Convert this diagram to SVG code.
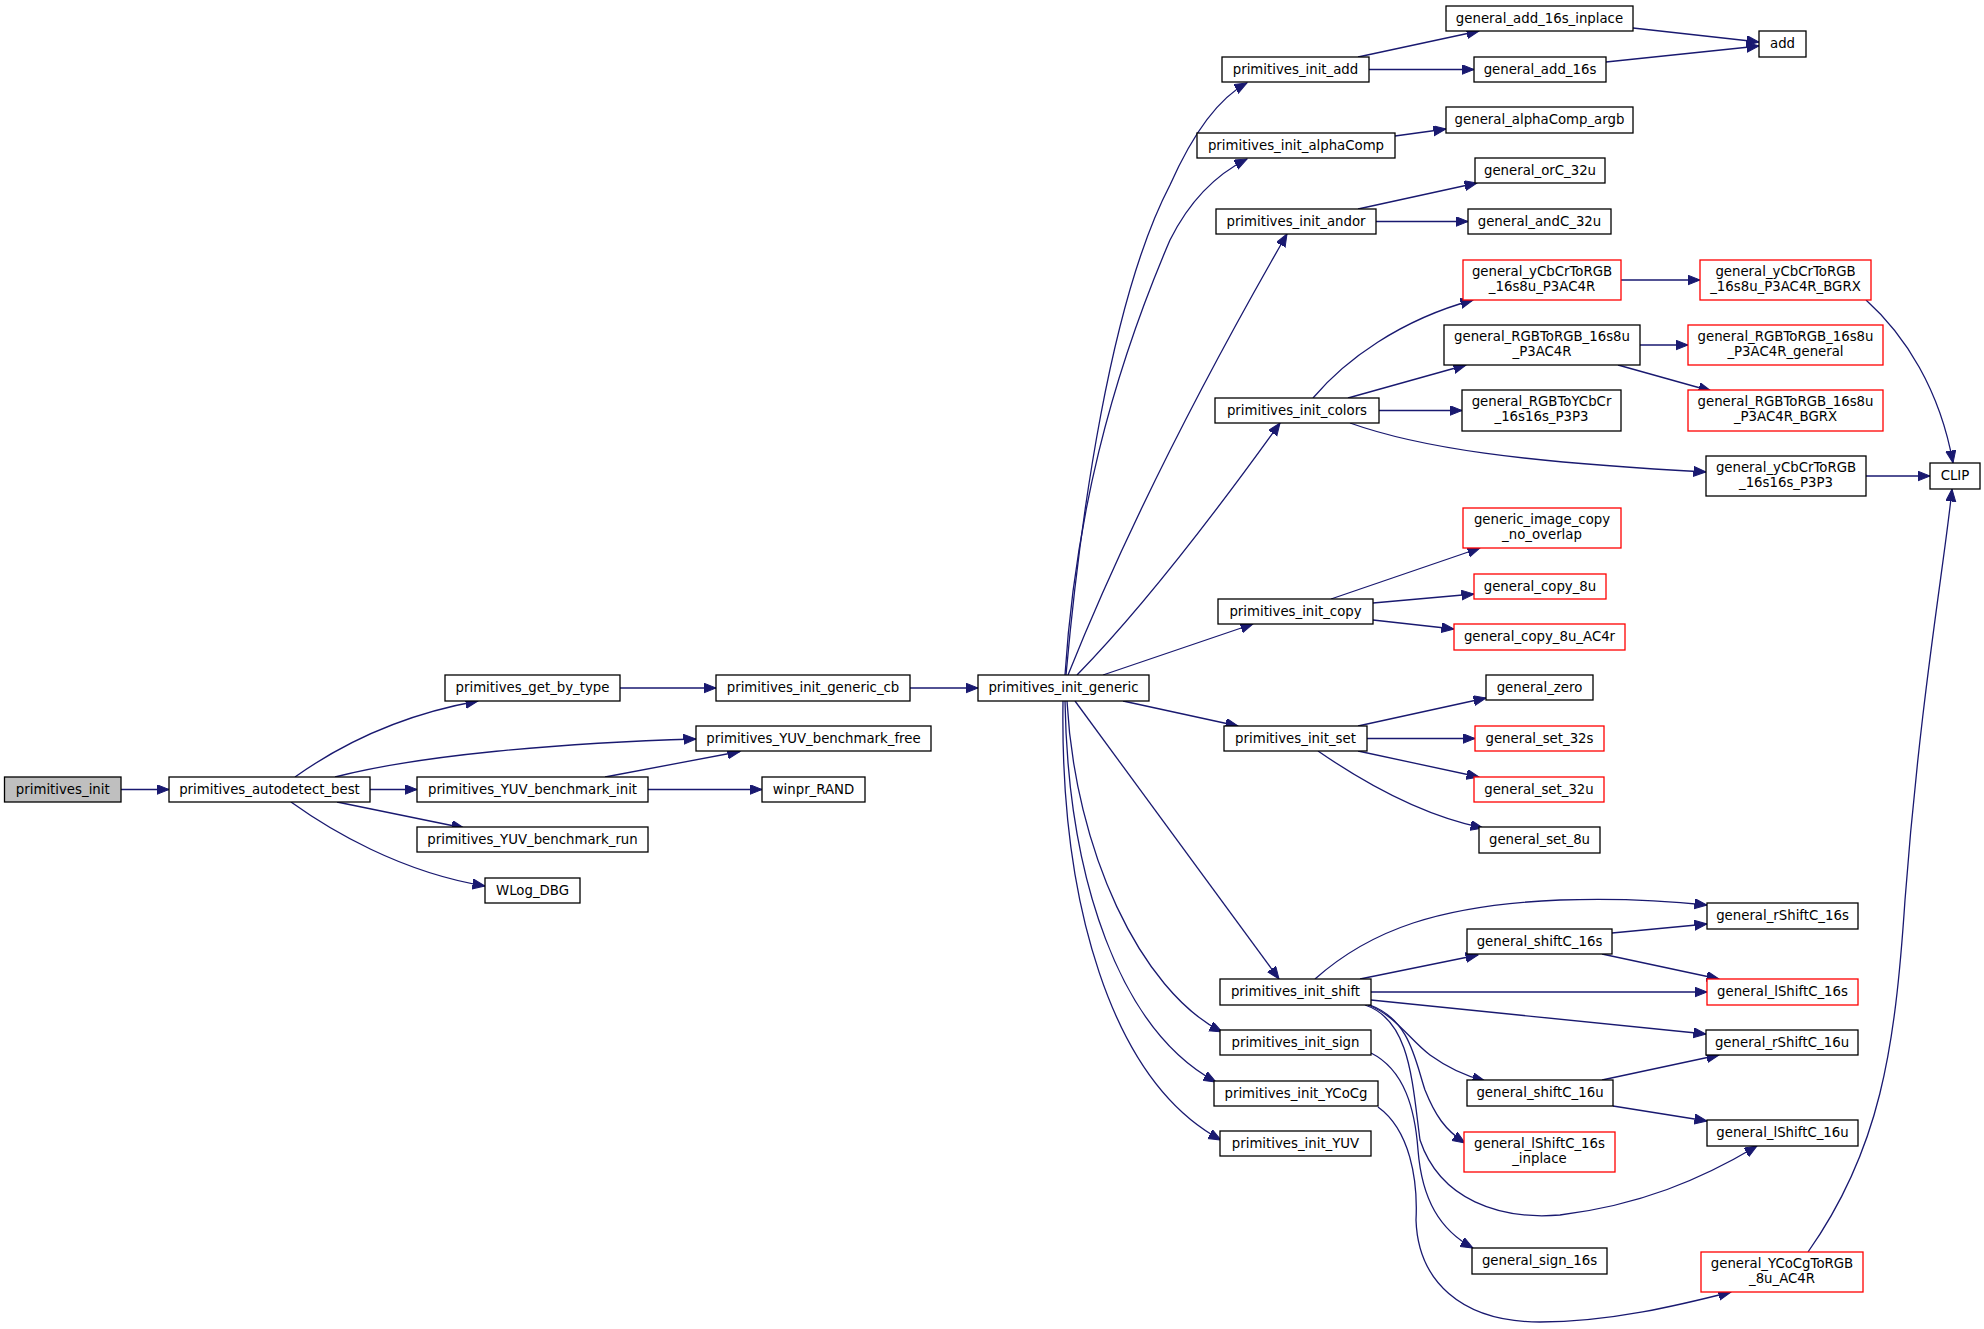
<svg xmlns="http://www.w3.org/2000/svg" width="1984" height="1329" viewBox="0 0 1984 1329">
<style>
.n rect{fill:#fff;stroke:#000;stroke-width:1.3}
.r rect{stroke:#ff0000}
.g rect{fill:#bfbfbf}
text{font-family:"DejaVu Sans","Liberation Sans",sans-serif;font-size:13.3px;fill:#000;text-anchor:middle}
#edges path{fill:none;stroke:#191970;stroke-width:1.3;marker-end:url(#ah)}
</style>
<defs>
<marker id="ah" markerUnits="userSpaceOnUse" markerWidth="14" markerHeight="11" refX="12.5" refY="5" orient="auto">
<path d="M0,0 L12.5,5 L0,10 z" fill="#191970" stroke="#191970" stroke-width="1"/>
</marker>
</defs>
<rect width="1984" height="1329" fill="#fff"/>
<g id="edges">
<path d="M121,789.5 L169,789.5"/>
<path d="M295,777 C340,745 400,715 478,701"/>
<path d="M335,777 C420,755 560,743 696,739"/>
<path d="M370,789.5 L417,789.5"/>
<path d="M337,802 L464,828"/>
<path d="M291,802 C330,830 400,872 485,886"/>
<path d="M605,777 L740,751.5"/>
<path d="M648,789.5 L762,789.5"/>
<path d="M620,688 L716,688"/>
<path d="M910,688 L978,688"/>
<path d="M1066,675 C1080,520 1110,300 1170,185 C1190,140 1215,100 1247,83"/>
<path d="M1065,675 C1075,520 1110,380 1170,240 C1190,200 1215,175 1247,159"/>
<path d="M1068,675 C1110,570 1180,420 1287,234"/>
<path d="M1077,675 Q1160,590 1280,423"/>
<path d="M1103,675 L1253,624"/>
<path d="M1123,701 L1238,726"/>
<path d="M1075,701 L1279,979"/>
<path d="M1067,701 C1075,850 1140,990 1222,1032"/>
<path d="M1065,701 C1068,880 1120,1030 1216,1082"/>
<path d="M1063,701 C1060,900 1110,1080 1221,1140"/>
<path d="M1358,57 L1479,31"/>
<path d="M1369,69.5 L1474,69.5"/>
<path d="M1633,28 L1759,42"/>
<path d="M1606,62 L1759,46"/>
<path d="M1395,136 L1446,129"/>
<path d="M1358,209 L1477,183"/>
<path d="M1376,221.5 L1468,221.5"/>
<path d="M1313,398 C1345,360 1400,320 1473,300"/>
<path d="M1348,398 L1466,365"/>
<path d="M1379,410.5 L1462,410.5"/>
<path d="M1350,423 C1420,448 1520,462 1706,472"/>
<path d="M1621,280 L1700,280"/>
<path d="M1640,345 L1688,345"/>
<path d="M1618,365 L1711,391"/>
<path d="M1866,300 C1905,335 1940,390 1953,463"/>
<path d="M1866,476 L1930,476"/>
<path d="M1808,1252 C1880,1150 1895,1050 1905,900 C1920,700 1945,560 1952,489"/>
<path d="M1331,599 L1480,548"/>
<path d="M1373,603 L1474,594"/>
<path d="M1373,620 L1454,629"/>
<path d="M1358,726 L1486,698"/>
<path d="M1367,738.5 L1475,738.5"/>
<path d="M1358,751 L1479,777"/>
<path d="M1318,751 C1360,780 1420,815 1483,828"/>
<path d="M1315,979 C1370,930 1440,905 1560,900 C1620,898 1660,900 1707,905"/>
<path d="M1360,979 L1478,955"/>
<path d="M1612,933 L1707,924"/>
<path d="M1602,954 L1719,979"/>
<path d="M1371,992 L1707,992"/>
<path d="M1371,1000 L1706,1034"/>
<path d="M1368,1005 C1395,1015 1410,1040 1430,1055 C1448,1068 1465,1076 1485,1081"/>
<path d="M1370,1005 C1410,1020 1415,1060 1425,1090 C1435,1115 1445,1130 1465,1143"/>
<path d="M1365,1005 C1410,1020 1412,1080 1420,1140 C1440,1200 1500,1220 1560,1215 C1640,1205 1700,1180 1757,1146"/>
<path d="M1602,1080 L1719,1055"/>
<path d="M1613,1106 L1707,1121"/>
<path d="M1371,1053 C1405,1070 1415,1110 1418,1150 C1422,1200 1440,1230 1473,1248"/>
<path d="M1378,1107 C1410,1130 1418,1180 1416,1220 C1418,1280 1460,1322 1540,1322 C1610,1322 1680,1305 1731,1292"/>
</g>
<g id="n1" class="n g"><rect x="4.5" y="777" width="116.5" height="25"/><text x="62.75" y="793.5">primitives_init</text></g>
<g id="n2" class="n"><rect x="169" y="777" width="201" height="25"/><text x="269.5" y="793.5">primitives_autodetect_best</text></g>
<g id="n3" class="n"><rect x="445" y="675" width="175" height="26"/><text x="532.5" y="692">primitives_get_by_type</text></g>
<g id="n4" class="n"><rect x="696" y="726" width="235" height="25"/><text x="813.5" y="742.5">primitives_YUV_benchmark_free</text></g>
<g id="n5" class="n"><rect x="417" y="777" width="231" height="25"/><text x="532.5" y="793.5">primitives_YUV_benchmark_init</text></g>
<g id="n6" class="n"><rect x="762" y="777" width="103" height="25"/><text x="813.5" y="793.5">winpr_RAND</text></g>
<g id="n7" class="n"><rect x="417" y="827" width="231" height="25"/><text x="532.5" y="843.5">primitives_YUV_benchmark_run</text></g>
<g id="n8" class="n"><rect x="485" y="878" width="95" height="25"/><text x="532.5" y="894.5">WLog_DBG</text></g>
<g id="n9" class="n"><rect x="716" y="675" width="194" height="26"/><text x="813" y="692">primitives_init_generic_cb</text></g>
<g id="n10" class="n"><rect x="978" y="675" width="171" height="26"/><text x="1063.5" y="692">primitives_init_generic</text></g>
<g id="n11" class="n"><rect x="1222" y="57" width="147" height="25"/><text x="1295.5" y="73.5">primitives_init_add</text></g>
<g id="n12" class="n"><rect x="1197" y="133" width="198" height="25"/><text x="1296" y="149.5">primitives_init_alphaComp</text></g>
<g id="n13" class="n"><rect x="1216" y="209" width="160" height="25"/><text x="1296" y="225.5">primitives_init_andor</text></g>
<g id="n14" class="n"><rect x="1215" y="398" width="164" height="25"/><text x="1297" y="414.5">primitives_init_colors</text></g>
<g id="n15" class="n"><rect x="1218" y="599" width="155" height="25"/><text x="1295.5" y="615.5">primitives_init_copy</text></g>
<g id="n16" class="n"><rect x="1224" y="726" width="143" height="25"/><text x="1295.5" y="742.5">primitives_init_set</text></g>
<g id="n17" class="n"><rect x="1220" y="979" width="151" height="26"/><text x="1295.5" y="996">primitives_init_shift</text></g>
<g id="n18" class="n"><rect x="1220" y="1030" width="151" height="25"/><text x="1295.5" y="1046.5">primitives_init_sign</text></g>
<g id="n19" class="n"><rect x="1214" y="1081" width="164" height="25"/><text x="1296" y="1097.5">primitives_init_YCoCg</text></g>
<g id="n20" class="n"><rect x="1220" y="1131" width="151" height="25"/><text x="1295.5" y="1147.5">primitives_init_YUV</text></g>
<g id="n21" class="n"><rect x="1446" y="6" width="187" height="25"/><text x="1539.5" y="22.5">general_add_16s_inplace</text></g>
<g id="n22" class="n"><rect x="1474" y="57" width="132" height="25"/><text x="1540" y="73.5">general_add_16s</text></g>
<g id="n23" class="n"><rect x="1759" y="31" width="47" height="26"/><text x="1782.5" y="48">add</text></g>
<g id="n24" class="n"><rect x="1446" y="107" width="187" height="26"/><text x="1539.5" y="124">general_alphaComp_argb</text></g>
<g id="n25" class="n"><rect x="1475" y="158" width="130" height="25"/><text x="1540" y="174.5">general_orC_32u</text></g>
<g id="n26" class="n"><rect x="1468" y="209" width="143" height="25"/><text x="1539.5" y="225.5">general_andC_32u</text></g>
<g id="n27" class="n r"><rect x="1463" y="260" width="158" height="40"/><text x="1542" y="276">general_yCbCrToRGB</text><text x="1542" y="291">_16s8u_P3AC4R</text></g>
<g id="n28" class="n r"><rect x="1700" y="260" width="171" height="40"/><text x="1785.5" y="276">general_yCbCrToRGB</text><text x="1785.5" y="291">_16s8u_P3AC4R_BGRX</text></g>
<g id="n29" class="n"><rect x="1444" y="325" width="196" height="40"/><text x="1542" y="341">general_RGBToRGB_16s8u</text><text x="1542" y="356">_P3AC4R</text></g>
<g id="n30" class="n r"><rect x="1688" y="325" width="195" height="40"/><text x="1785.5" y="341">general_RGBToRGB_16s8u</text><text x="1785.5" y="356">_P3AC4R_general</text></g>
<g id="n31" class="n r"><rect x="1688" y="390" width="195" height="41"/><text x="1785.5" y="406">general_RGBToRGB_16s8u</text><text x="1785.5" y="421">_P3AC4R_BGRX</text></g>
<g id="n32" class="n"><rect x="1462" y="390" width="159" height="41"/><text x="1541.5" y="406">general_RGBToYCbCr</text><text x="1541.5" y="421">_16s16s_P3P3</text></g>
<g id="n33" class="n"><rect x="1706" y="456" width="160" height="40"/><text x="1786" y="472">general_yCbCrToRGB</text><text x="1786" y="487">_16s16s_P3P3</text></g>
<g id="n34" class="n"><rect x="1930" y="463" width="50" height="26"/><text x="1955" y="480">CLIP</text></g>
<g id="n35" class="n r"><rect x="1463" y="508" width="158" height="40"/><text x="1542" y="524">generic_image_copy</text><text x="1542" y="539">_no_overlap</text></g>
<g id="n36" class="n r"><rect x="1474" y="574" width="132" height="25"/><text x="1540" y="590.5">general_copy_8u</text></g>
<g id="n37" class="n r"><rect x="1454" y="624" width="171" height="26"/><text x="1539.5" y="641">general_copy_8u_AC4r</text></g>
<g id="n38" class="n"><rect x="1486" y="675" width="107" height="25"/><text x="1539.5" y="691.5">general_zero</text></g>
<g id="n39" class="n r"><rect x="1475" y="726" width="129" height="25"/><text x="1539.5" y="742.5">general_set_32s</text></g>
<g id="n40" class="n r"><rect x="1474" y="777" width="130" height="25"/><text x="1539" y="793.5">general_set_32u</text></g>
<g id="n41" class="n"><rect x="1479" y="827" width="121" height="26"/><text x="1539.5" y="844">general_set_8u</text></g>
<g id="n42" class="n"><rect x="1707" y="903" width="151" height="26"/><text x="1782.5" y="920">general_rShiftC_16s</text></g>
<g id="n43" class="n"><rect x="1467" y="929" width="145" height="25"/><text x="1539.5" y="945.5">general_shiftC_16s</text></g>
<g id="n44" class="n r"><rect x="1707" y="979" width="151" height="26"/><text x="1782.5" y="996">general_lShiftC_16s</text></g>
<g id="n45" class="n"><rect x="1706" y="1030" width="152" height="25"/><text x="1782" y="1046.5">general_rShiftC_16u</text></g>
<g id="n46" class="n"><rect x="1467" y="1080" width="146" height="26"/><text x="1540" y="1097">general_shiftC_16u</text></g>
<g id="n47" class="n"><rect x="1707" y="1120" width="151" height="26"/><text x="1782.5" y="1137">general_lShiftC_16u</text></g>
<g id="n48" class="n r"><rect x="1464" y="1132" width="151" height="40"/><text x="1539.5" y="1148">general_lShiftC_16s</text><text x="1539.5" y="1163">_inplace</text></g>
<g id="n49" class="n"><rect x="1472" y="1248" width="135" height="26"/><text x="1539.5" y="1265">general_sign_16s</text></g>
<g id="n50" class="n r"><rect x="1701" y="1252" width="162" height="40"/><text x="1782" y="1268">general_YCoCgToRGB</text><text x="1782" y="1283">_8u_AC4R</text></g>
</svg>
